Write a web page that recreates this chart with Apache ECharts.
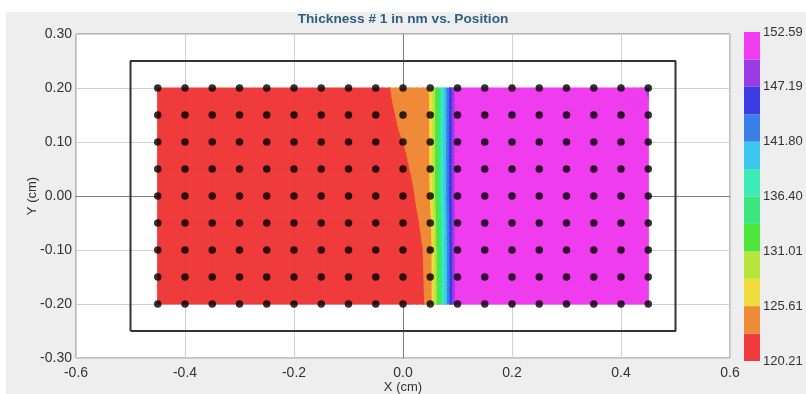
<!DOCTYPE html>
<html>
<head>
<meta charset="utf-8">
<script src="https://cdn.jsdelivr.net/npm/echarts@6/dist/echarts.min.js"></script>
<style>
  html, body { margin: 0; padding: 0; background: #ffffff; }
  #wrap { position: relative; width: 806px; height: 394px; }
  #panel { position: absolute; left: 6px; top: 12px; right: 0; bottom: 0; background: #eeeeee; }
  #chart { position: absolute; left: 0; top: 0; width: 806px; height: 394px; }
</style>
</head>
<body>
<div id="wrap"><div id="panel"></div><div id="chart"></div></div>
<script>
// Measurement grid positions (cm)
const xPositions = [-0.45, -0.40, -0.35, -0.30, -0.25, -0.20, -0.15, -0.10, -0.05, 0.00,
                    0.05, 0.10, 0.15, 0.20, 0.25, 0.30, 0.35, 0.40, 0.45];
const yPositions = [0.20, 0.15, 0.10, 0.05, 0.00, -0.05, -0.10, -0.15, -0.20];

// Thickness #1 (nm), one row per entry of yPositions, one value per entry of xPositions
const thickness = [
  [121.2, 121.0, 120.9, 121.1, 121.0, 120.8, 120.9, 121.0, 121.0, 124.5, 125.65, 152.3, 152.4, 152.5, 152.4, 152.3, 152.2, 152.2, 149.5],
  [121.1, 121.0, 121.0, 120.9, 120.9, 120.8, 120.9, 121.0, 121.0, 123.6, 125.65, 152.4, 152.5, 152.5, 152.4, 152.4, 152.3, 152.3, 150.4],
  [121.0, 120.9, 120.9, 120.8, 120.8, 120.7, 120.8, 120.9, 121.1, 122.9, 125.65, 152.5, 152.5, 152.59, 152.5, 152.4, 152.4, 152.3, 151.6],
  [120.9, 120.8, 120.8, 120.7, 120.7, 120.7, 120.7, 120.8, 121.0, 122.0, 125.65, 152.4, 152.5, 152.5, 152.5, 152.4, 152.4, 152.3, 151.9],
  [120.8, 120.7, 120.7, 120.6, 120.6, 120.6, 120.6, 120.7, 120.9, 120.8, 125.6, 152.5, 152.5, 152.5, 152.4, 152.4, 152.3, 152.2, 152.0],
  [120.7, 120.6, 120.6, 120.5, 120.5, 120.5, 120.5, 120.6, 120.6, 120.4, 124.5, 152.4, 152.4, 152.4, 152.4, 152.3, 152.3, 152.2, 152.0],
  [120.6, 120.5, 120.5, 120.4, 120.4, 120.4, 120.4, 120.5, 120.5, 120.3, 123.8, 152.4, 152.4, 152.4, 152.3, 152.3, 152.2, 152.1, 151.9],
  [120.5, 120.4, 120.4, 120.3, 120.3, 120.3, 120.3, 120.4, 120.4, 120.25, 123.7, 152.3, 152.4, 152.3, 152.3, 152.2, 152.2, 152.1, 151.8],
  [120.4, 120.3, 120.3, 120.3, 120.3, 120.3, 120.3, 120.3, 120.3, 120.21, 123.6, 152.3, 152.3, 152.3, 152.2, 152.2, 152.1, 152.1, 151.8]
];

// Colour scale: 12 equal bands between the min and max thickness
const scaleMin = 120.21;
const scaleMax = 152.59;
const bandColors = ['#ef3b3b', '#ef8a38', '#f0dc3c', '#b6e63c', '#4ee63c', '#3ce67e',
                    '#3cecb6', '#3cc8ee', '#3a80e8', '#3c3ce6', '#9a3ce6', '#ee3cee'];
const scaleTickLabels = ['120.21', '125.61', '131.01', '136.40', '141.80', '147.19', '152.59'];

// Wafer outline (cm)
const waferOutline = [[-0.5, -0.25], [0.5, -0.25], [0.5, 0.25], [-0.5, 0.25], [-0.5, -0.25]];

const bandStep = (scaleMax - scaleMin) / bandColors.length;
const SUBDIV = 4; // bilinear sub-steps per cell edge when tracing the bands

// One record per grid cell: corners and the four corner values
const cells = [];
for (let r = 0; r < yPositions.length - 1; r++) {
  for (let c = 0; c < xPositions.length - 1; c++) {
    cells.push([
      xPositions[c], yPositions[r + 1], xPositions[c + 1], yPositions[r],
      thickness[r + 1][c], thickness[r + 1][c + 1], thickness[r][c], thickness[r][c + 1]
    ]);
  }
}
const points = [];
yPositions.forEach(y => xPositions.forEach(x => points.push([x, y])));

function bandOf(v) {
  return Math.max(0, Math.min(bandColors.length - 1, Math.floor((v - scaleMin) / bandStep)));
}

// Clip a polygon (vertices carrying a value v) to v >= thr or v <= thr
function clipPoly(poly, thr, keepAbove) {
  const out = [];
  for (let i = 0; i < poly.length; i++) {
    const a = poly[i], b = poly[(i + 1) % poly.length];
    const ina = keepAbove ? a.v >= thr : a.v <= thr;
    const inb = keepAbove ? b.v >= thr : b.v <= thr;
    if (ina) out.push(a);
    if (ina !== inb) {
      const t = (thr - a.v) / (b.v - a.v);
      out.push({ x: a.x + t * (b.x - a.x), y: a.y + t * (b.y - a.y), v: thr });
    }
  }
  return out;
}

function pushBands(children, poly) {
  let kMin = Infinity, kMax = -Infinity;
  poly.forEach(p => { const k = bandOf(p.v); kMin = Math.min(kMin, k); kMax = Math.max(kMax, k); });
  for (let k = kMin; k <= kMax; k++) {
    let part = poly;
    if (k > 0) part = clipPoly(part, scaleMin + k * bandStep, true);
    if (part.length >= 3 && k < bandColors.length - 1) part = clipPoly(part, scaleMin + (k + 1) * bandStep, false);
    if (part.length >= 3) {
      children.push({
        type: 'polygon',
        shape: { points: part.map(p => [p.x, p.y]) },
        style: { fill: bandColors[k], stroke: bandColors[k], lineWidth: 1.2, lineJoin: 'round' }
      });
    }
  }
}

// Filled contour bands of one grid cell (bilinear surface between the four measured corners)
function renderContourCell(params, api) {
  const x0 = api.value(0), y0 = api.value(1), x1 = api.value(2), y1 = api.value(3);
  const v00 = api.value(4), v10 = api.value(5), v01 = api.value(6), v11 = api.value(7);
  const pA = api.coord([x0, y0]), pC = api.coord([x1, y1]);
  const children = [];
  const node = (i, j) => {
    const s = i / SUBDIV, t = j / SUBDIV;
    return {
      x: pA[0] + s * (pC[0] - pA[0]),
      y: pA[1] + t * (pC[1] - pA[1]),
      v: v00 * (1 - s) * (1 - t) + v10 * s * (1 - t) + v01 * (1 - s) * t + v11 * s * t
    };
  };
  if (bandOf(v00) === bandOf(v10) && bandOf(v00) === bandOf(v01) && bandOf(v00) === bandOf(v11)) {
    pushBands(children, [node(0, 0), node(SUBDIV, 0), node(SUBDIV, SUBDIV), node(0, SUBDIV)]);
  } else {
    for (let i = 0; i < SUBDIV; i++) {
      for (let j = 0; j < SUBDIV; j++) {
        const a = node(i, j), b = node(i + 1, j), c = node(i + 1, j + 1), d = node(i, j + 1);
        pushBands(children, [a, b, c]);
        pushBands(children, [a, c, d]);
      }
    }
  }
  return { type: 'group', children: children };
}

function renderScaleBand(params, api) {
  const k0 = api.value(0), k1 = api.value(1);
  const p0 = api.coord([0, k0]);
  const p1 = api.coord([1, k1]);
  return {
    type: 'rect',
    shape: { x: p0[0], y: p1[1], width: p1[0] - p0[0], height: p0[1] - p1[1] },
    style: { fill: bandColors[params.dataIndex] }
  };
}

const fontFamily = 'Liberation Sans, Arial, sans-serif';
const chart = echarts.init(document.getElementById('chart'), null, { renderer: 'canvas' });
chart.setOption({
  animation: false,
  backgroundColor: 'transparent',
  textStyle: { fontFamily: fontFamily },
  title: {
    text: 'Thickness # 1 in nm vs. Position',
    left: 'center',
    top: 7,
    textStyle: { fontSize: 13.7, fontWeight: 'bold', color: '#2d5f80', fontFamily: fontFamily }
  },
  grid: [
    { left: 76, top: 34, width: 654, height: 324, show: true, backgroundColor: '#ffffff',
      borderColor: '#808080', borderWidth: 1, containLabel: false, outerBoundsMode: 'none' },
    { left: 744, top: 32, width: 16, height: 329, containLabel: false, outerBoundsMode: 'none' }
  ],
  xAxis: [
    {
      type: 'value', gridIndex: 0, min: -0.6, max: 0.6, interval: 0.2,
      name: 'X (cm)', nameLocation: 'middle', nameGap: 23, nameMoveOverlap: false,
      nameTextStyle: { fontSize: 13, color: '#333333' },
      axisLine: { show: true, lineStyle: { color: '#808080' } },
      axisTick: { show: false },
      axisLabel: { fontSize: 14, color: '#333333', margin: 8,
        formatter: v => (Math.abs(v) < 1e-9 ? 0 : v).toFixed(1) },
      splitLine: { show: true, lineStyle: { color: '#d0d0d0' } }
    },
    { type: 'value', gridIndex: 1, min: 0, max: 1, show: false }
  ],
  yAxis: [
    {
      type: 'value', gridIndex: 0, min: -0.3, max: 0.3, interval: 0.1,
      name: 'Y (cm)', nameLocation: 'middle', nameGap: 37, nameMoveOverlap: false,
      nameTextStyle: { fontSize: 13, color: '#333333' },
      axisLine: { show: true, lineStyle: { color: '#808080' } },
      axisTick: { show: false },
      axisLabel: { fontSize: 14, color: '#333333', margin: 4,
        formatter: v => (Math.abs(v) < 1e-9 ? 0 : v).toFixed(2) },
      splitLine: { show: true, lineStyle: { color: '#d0d0d0' } }
    },
    {
      type: 'value', gridIndex: 1, position: 'right', min: 0, max: bandColors.length, interval: 2,
      axisLine: { show: false }, axisTick: { show: false }, splitLine: { show: false },
      axisLabel: { fontSize: 13, color: '#333333', margin: 3,
        formatter: v => scaleTickLabels[Math.round(v / 2)] }
    }
  ],
  series: [
    {
      type: 'custom', name: 'thickness', xAxisIndex: 0, yAxisIndex: 0,
      data: cells, encode: { x: [0, 2], y: [1, 3] },
      renderItem: renderContourCell, silent: true, z: 2
    },
    {
      type: 'line', name: 'wafer', xAxisIndex: 0, yAxisIndex: 0,
      data: waferOutline, symbol: 'none', silent: true, z: 3,
      lineStyle: { color: '#333333', width: 2 }
    },
    {
      type: 'scatter', name: 'sites', xAxisIndex: 0, yAxisIndex: 0,
      data: points, symbol: 'circle', symbolSize: 7.5, silent: true, z: 4,
      itemStyle: { color: '#000000' }
    },
    {
      type: 'custom', name: 'scale', xAxisIndex: 1, yAxisIndex: 1,
      data: bandColors.map((c, k) => [k, k + 1]), encode: { y: [0, 1] },
      renderItem: renderScaleBand, silent: true
    }
  ]
});
</script>
</body>
</html>
